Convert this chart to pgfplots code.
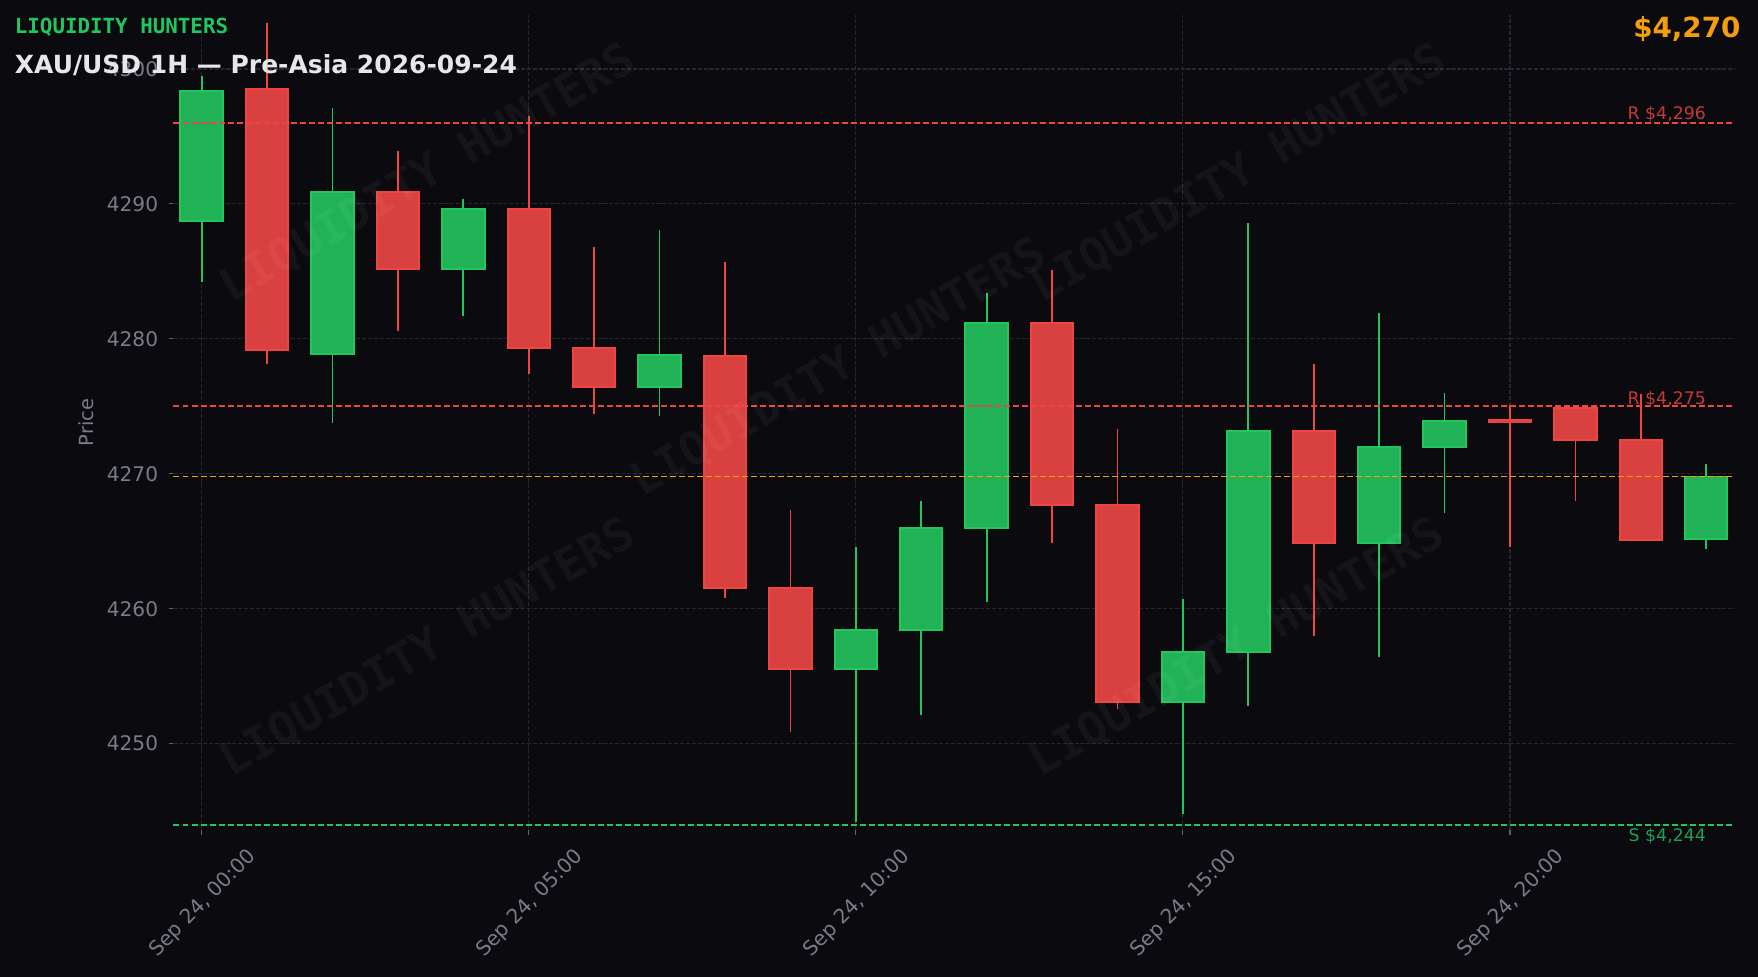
\documentclass[border=0pt]{standalone}
\usepackage{pgfplots}
\pgfplotsset{compat=1.18}
\usepackage{fontspec}
\setmainfont{DejaVu Sans}
\newfontfamily\monofont{DejaVu Sans Mono}
\definecolor{bg}{RGB}{11,11,15}
\definecolor{gridc}{RGB}{38,38,50}
\definecolor{tickc}{RGB}{120,124,135}
\definecolor{tickmark}{RGB}{95,99,110}
\definecolor{gedge}{RGB}{34,197,94}
\definecolor{gfill}{RGB}{33,178,88}
\definecolor{redge}{RGB}{239,68,68}
\definecolor{rfill}{RGB}{217,64,64}
\definecolor{rlab}{RGB}{193,57,58}
\definecolor{glab}{RGB}{29,160,78}
\definecolor{orng}{RGB}{245,158,11}
\definecolor{titc}{RGB}{229,231,235}
% #1 colour prefix, #2 x, #3 open, #4 high, #5 low, #6 close
\newcommand{\candle}[6]{%
  \addplot[#1edge, line width=1.3bp] coordinates {(#2,#5) (#2,#4)};
  \addplot[#1edge, line width=32bp, shorten <=-0.7bp, shorten >=-0.7bp] coordinates {(#2,#3) (#2,#6)};
  \addplot[#1fill, line width=29.1bp, shorten <=0.7bp, shorten >=0.7bp] coordinates {(#2,#3) (#2,#6)};
}
\begin{document}
\begin{tikzpicture}
\fill[bg] (-124.92bp,-105.84bp) rectangle (1140.84bp,597.6bp);
\begin{axis}[
  at={(0,0)}, anchor=south west,
  scale only axis, width=1124.28bp, height=586.8bp,
  xmin=-0.431, xmax=23.44, ymin=4243.6, ymax=4304,
  clip=false, no markers,
  axis x line*=bottom, axis y line*=left,
  axis line style={draw=none},
  tick align=outside,
  major tick length=3.5bp,
  tick style={draw=tickmark, line width=0.8bp},
  xtick={0,5,10,15,20},
  xticklabels={{Sep 24, 00:00},{Sep 24, 05:00},{Sep 24, 10:00},{Sep 24, 15:00},{Sep 24, 20:00}},
  ytick={4250,4260,4270,4280,4290,4300},
  yticklabel={\pgfmathprintnumber[fixed,1000 sep={}]{\tick}},
  /pgf/number format/assume math mode=true,
  ticklabel style={text=tickc, font=\fontsize{14.5bp}{17bp}\selectfont},
  xticklabel style={inner sep=0pt, yshift=-49.6bp, xshift=1.0bp, rotate=45, anchor=center},
  yticklabel style={inner sep=0pt, anchor=east, xshift=-7.4bp},
  grid=major,
  major grid style={draw=gridc, line width=0.8bp, dash pattern=on 2.96bp off 1.28bp},
  every axis y label/.style={at={(axis description cs:-0.056,0.5)}, rotate=90, anchor=center},
  ylabel={Price},
  ylabel style={text=tickc, font=\fontsize{14bp}{17bp}\selectfont},
]
\candle{g}{0}{4288.7}{4299.5}{4284.2}{4298.4}
\candle{r}{1}{4298.5}{4303.4}{4278.1}{4279.2}
\candle{g}{2}{4278.9}{4297.1}{4273.8}{4290.9}
\candle{r}{3}{4290.9}{4293.9}{4280.6}{4285.2}
\candle{g}{4}{4285.2}{4290.4}{4281.7}{4289.6}
\candle{r}{5}{4289.6}{4296.5}{4277.4}{4279.3}
\candle{r}{6}{4279.3}{4286.8}{4274.4}{4276.4}
\candle{g}{7}{4276.4}{4288.1}{4274.3}{4278.8}
\candle{r}{8}{4278.7}{4285.7}{4260.8}{4261.5}
\candle{r}{9}{4261.5}{4267.3}{4250.9}{4255.5}
\candle{g}{10}{4255.5}{4264.6}{4244.2}{4258.4}
\candle{g}{11}{4258.4}{4268.0}{4252.1}{4266.0}
\candle{g}{12}{4266.0}{4283.4}{4260.5}{4281.2}
\candle{r}{13}{4281.2}{4285.1}{4264.9}{4267.7}
\candle{r}{14}{4267.7}{4273.3}{4252.6}{4253.1}
\candle{g}{15}{4253.1}{4260.7}{4244.8}{4256.8}
\candle{g}{16}{4256.8}{4288.6}{4252.8}{4273.2}
\candle{r}{17}{4273.2}{4278.1}{4258.0}{4264.9}
\candle{g}{18}{4264.9}{4281.9}{4256.4}{4272.0}
\candle{g}{19}{4272.0}{4276.0}{4267.1}{4273.9}
\candle{r}{20}{4274.0}{4275.1}{4264.6}{4273.8}
\candle{r}{21}{4274.9}{4275.0}{4268.0}{4272.5}
\candle{r}{22}{4272.5}{4275.9}{4265.0}{4265.1}
\candle{g}{23}{4265.2}{4270.7}{4264.4}{4269.8}
% level lines
\addplot[redge, line width=1.3bp, dash pattern=on 4.3bp off 2.2bp] coordinates {(-0.431,4296) (23.44,4296)};
\addplot[redge, line width=1.3bp, dash pattern=on 4.3bp off 2.2bp] coordinates {(-0.431,4275) (23.44,4275)};
\addplot[orng, line width=1.3bp, dash pattern=on 4.3bp off 2.2bp] coordinates {(-0.431,4269.8) (23.44,4269.8)};
\addplot[gedge, line width=1.3bp, dash pattern=on 4.3bp off 2.2bp] coordinates {(-0.431,4244) (23.44,4244)};
\node[anchor=base east, inner sep=0pt, text=rlab, font=\fontsize{12.5bp}{15bp}\selectfont, yshift=2.2bp] at (axis cs:23,4296) {R \$4,296};
\node[anchor=base east, inner sep=0pt, text=rlab, font=\fontsize{12.5bp}{15bp}\selectfont, yshift=1.5bp] at (axis cs:23,4275) {R \$4,275};
\node[anchor=base east, inner sep=0pt, text=glab, font=\fontsize{12.5bp}{15bp}\selectfont, yshift=-12bp] at (axis cs:23,4244) {S \$4,244};
\end{axis}
% watermarks
\foreach \wx/\wy in {183.2/472.3, 767.2/472.3, 479.2/332.6, 183.2/131, 765.7/131}{
  \node[rotate=30, text=white, opacity=0.045, font=\monofont\bfseries\fontsize{33bp}{36bp}\selectfont] at (\wx bp,\wy bp) {LIQUIDITY HUNTERS};
}
% titles
\node[anchor=base west, inner sep=0pt, text=gedge, font=\monofont\bfseries\fontsize{15bp}{18bp}\selectfont] at (-114.4bp,573.6bp) {LIQUIDITY HUNTERS};
\node[anchor=base west, inner sep=0pt, text=titc, font=\bfseries\fontsize{18bp}{22bp}\selectfont] at (-114.4bp,545.0bp) {XAU/USD 1H — Pre-Asia 2026-09-24};
\node[anchor=base east, inner sep=0pt, text=orng, font=\bfseries\fontsize{20bp}{24bp}\selectfont] at (1128.4bp,570.3bp) {\$4,270};
\pgfresetboundingbox
\useasboundingbox (-124.92bp,-105.84bp) rectangle (1140.84bp,597.6bp);
\end{tikzpicture}
\end{document}
